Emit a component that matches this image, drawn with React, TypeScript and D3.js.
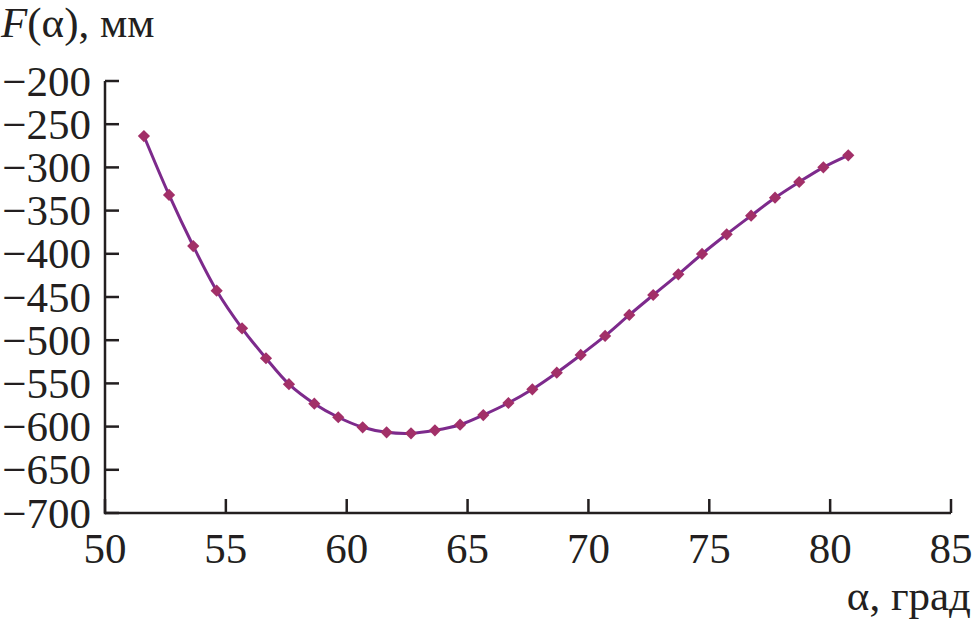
import React from "react";
import * as d3 from "d3";

const alphaDeg = [
  51.61, 52.65, 53.65, 54.62, 55.67, 56.66, 57.61, 58.66, 59.65, 60.66,
  61.65, 62.66, 63.65, 64.69, 65.65, 66.69, 67.68, 68.69, 69.68, 70.69,
  71.69, 72.68, 73.72, 74.7, 75.72, 76.73, 77.72, 78.72, 79.72, 80.75,
];
const fValues = [
  -263.7, -331.9, -391.0, -442.7, -486.2, -520.9, -550.9, -573.5, -589.2, -600.8,
  -606.6, -607.8, -604.3, -597.8, -586.6, -572.7, -556.8, -537.6, -517.1, -495.1,
  -470.8, -447.7, -423.7, -400.2, -377.4, -355.9, -335.1, -316.9, -299.9, -286.0,
];
const xTicks = [50, 55, 60, 65, 70, 75, 80, 85];
const yTicks = [-200, -250, -300, -350, -400, -450, -500, -550, -600, -650, -700];

const W = 972;
const H = 623;
const left = 105;
const right = 951;
const top = 81;
const bottom = 513;
const FONT = "'Liberation Serif', 'Times New Roman', serif";
const AX = "#231f20";

export default function App() {
  const x = d3.scaleLinear().domain([50, 85]).range([left, right]);
  const y = d3.scaleLinear().domain([-700, -200]).range([bottom, top]);
  const pts = alphaDeg.map((a, i) => [x(a), y(fValues[i])] as [number, number]);
  const line = d3.line().curve(d3.curveCatmullRom.alpha(0.5))(pts) || "";
  const diamond = d3.symbol().type(d3.symbolDiamond2).size(95)() || "";

  return (
    <svg
      width={W}
      height={H}
      viewBox={`0 0 ${W} ${H}`}
      style={{ position: "absolute", left: 0, top: 0, background: "#fff" }}
    >
      <g fontFamily={FONT} fill={AX} fontSize={43}>
        <text x={1} y={37}>
          <tspan fontStyle="italic">F</tspan>(α), мм
        </text>
        <text x={971} y={610} textAnchor="end">α, град</text>
        {yTicks.map((t) => (
          <g key={t}>
            <line x1={left} x2={left + 14} y1={y(t)} y2={y(t)} stroke={AX} strokeWidth={2.5} />
            <text x={91} y={y(t)} dy="0.34em" textAnchor="end">
              {"\u2212" + Math.abs(t)}
            </text>
          </g>
        ))}
        {xTicks.map((t) => (
          <g key={t}>
            <line x1={x(t)} x2={x(t)} y1={bottom} y2={bottom - 14} stroke={AX} strokeWidth={2.5} />
            <text x={x(t)} y={563} textAnchor="middle">{t}</text>
          </g>
        ))}
        <line x1={left} x2={right} y1={bottom} y2={bottom} stroke={AX} strokeWidth={2.5} />
        <line x1={left} x2={left} y1={top} y2={bottom + 1.25} stroke={AX} strokeWidth={2.5} />
      </g>
      <path d={line} fill="none" stroke="#7d2a8c" strokeWidth={3} />
      {pts.map((p, i) => (
        <path key={i} d={diamond} transform={`translate(${p[0]},${p[1]})`} fill="#a23068" />
      ))}
    </svg>
  );
}
